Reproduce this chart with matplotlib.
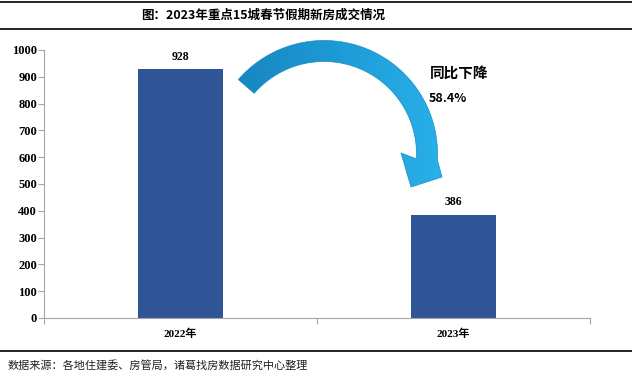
import numpy as np
import matplotlib.pyplot as plt
from matplotlib.patches import Polygon
from matplotlib.colors import LinearSegmentedColormap

years = ['2022年', '2023年']
deals = [928, 386]
y_ticks = [0, 100, 200, 300, 400, 500, 600, 700, 800, 900, 1000]
title = '图：2023年重点15城春节假期新房成交情况'
source = '数据来源：各地住建委、房管局，诸葛找房数据研究中心整理'
change_label = '同比下降'
change_value = '58.4%'

serif = ['Liberation Serif', 'Noto Sans CJK SC']
sans = ['Noto Sans CJK SC', 'DejaVu Sans']
bar_color = '#2f5597'
axis_color = '#a6a6a6'

W, H = 632, 376
fig = plt.figure(figsize=(W / 100, H / 100), dpi=100)
ax = fig.add_axes([44 / W, 1 - 318 / H, (590 - 44) / W, (318 - 50) / H])

x = list(range(len(years)))
ax.bar(x, deals, width=0.315, color=bar_color)
for xi, v in zip(x, deals):
    ax.text(xi, v + 25, str(v), ha='center', va='bottom', fontsize=8.5,
            fontweight='bold', family=serif)

ax.set_xlim(-0.5, len(years) - 0.5)
ax.set_ylim(0, 1000)
ax.set_yticks(y_ticks)
ax.set_yticklabels([str(t) for t in y_ticks], fontsize=9, fontweight='bold',
                   family=serif)
ax.set_xticks([i - 0.5 for i in range(len(years) + 1)])
ax.set_xticklabels([])
for xi, lab in zip(x, years):
    ax.text(xi, -40, lab, ha='center', va='top', fontsize=8,
            fontweight='bold', family=serif)

for s in ['top', 'right']:
    ax.spines[s].set_visible(False)
for s in ['left', 'bottom']:
    ax.spines[s].set_color(axis_color)
    ax.spines[s].set_linewidth(0.8)
ax.tick_params(axis='both', colors=axis_color, length=4, width=0.8,
               labelcolor='black')
ax.tick_params(axis='y', pad=1)

# overlay in pixel units (y down) for the decoration
ov = fig.add_axes([0, 0, 1, 1], zorder=5)
ov.axis('off')
ov.patch.set_alpha(0)

# curved arrow: circular arc body + tilted head
cx, cy, r = 324, 154, 103
t = np.linspace(np.radians(139), np.radians(-3), 80)
half = np.linspace(10.5, 10.5, 80)
outer = np.c_[cx + (r + half) * np.cos(t), cy - (r + half) * np.sin(t)]
inner = np.c_[cx + (r - half) * np.cos(t), cy - (r - half) * np.sin(t)]
head = [[442, 177], [411, 187], [401, 153]]
pts = np.vstack([outer, head, inner[::-1]])
arrow = Polygon(pts, closed=True, facecolor='none', edgecolor='#1a8cc6',
                linewidth=0.5)
ov.add_patch(arrow)
cmap = LinearSegmentedColormap.from_list('blue', ['#1883bf', '#1d9bd6', '#2ab2ea'])
grad = np.tile(np.linspace(0, 1, 256), (2, 1))
img = ov.imshow(grad, cmap=cmap, extent=(225, 450, 200, 30), aspect='auto',
                interpolation='bilinear')
img.set_clip_path(arrow)
ov.set_xlim(0, W)
ov.set_ylim(H, 0)

ov.text(430, 73, change_label, ha='left', va='center',
        fontsize=10.5, fontweight='bold', family=sans)
ov.text(429, 99, change_value, ha='left', va='center',
        fontsize=9, fontweight='bold', family=sans)

# title block and footer
ov.text(263, 15, title, ha='center', va='center', fontsize=9,
        fontweight='bold', family=sans)
for y in [2, 29, 351]:
    ov.plot([0, W], [y, y], color='black', linewidth=1.2)
ov.text(8, 365, source, ha='left', va='center', fontsize=8,
        family=sans, color='#222222')

fig.savefig('out.png', dpi=100)
